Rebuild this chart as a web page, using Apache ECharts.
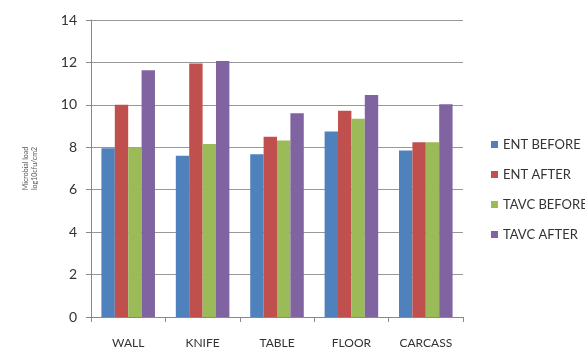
<!DOCTYPE html>
<html><head><meta charset="utf-8">
<script src="https://cdn.jsdelivr.net/npm/echarts@6/dist/echarts.min.js"></script>
<style>html,body{margin:0;padding:0;background:#fff}#c{width:585px;height:352px}</style>
</head><body><div id="c"></div>
<script>
const categories = ['WALL','KNIFE','TABLE','FLOOR','CARCASS'];
const seriesNames = ['ENT BEFORE','ENT AFTER','TAVC BEFORE','TAVC AFTER'];
const entBefore = [7.95, 7.6, 7.67, 8.74, 7.85];
const entAfter = [10.0, 11.95, 8.5, 9.72, 8.24];
const tavcBefore = [8.0, 8.15, 8.32, 9.34, 8.24];
const tavcAfter = [11.63, 12.07, 9.6, 10.47, 10.03];
const yTicks = [0,2,4,6,8,10,12,14];
const colors = ['#4F81BD','#C0504D','#9BBB59','#8064A2'];
const values = [entBefore, entAfter, tavcBefore, tavcAfter];
const font = 'Lato, "Open Sans", sans-serif';
const chart = echarts.init(document.getElementById('c'));
chart.setOption({
  animation:false,
  textStyle:{fontFamily:font},
  grid:{left:91,right:122,top:20,bottom:35},
  legend:{orient:'vertical',left:486,top:133,itemWidth:7,itemHeight:7,itemGap:17,
    icon:'rect',textStyle:{fontSize:13,color:'#333',fontFamily:font},
    data:seriesNames},
  xAxis:{type:'category',data:categories,
    axisLine:{lineStyle:{color:'#888'}},
    axisTick:{show:true,alignWithLabel:false,length:5,lineStyle:{color:'#888'}},
    axisLabel:{fontSize:12,color:'#333',margin:20}},
  yAxis:{type:'value',min:0,max:14,interval:2,
    name:'Microbial load\nlog10cfu/cm2',nameLocation:'middle',nameGap:52,nameRotate:90,
    nameTextStyle:{fontSize:7,color:'#555',lineHeight:9},
    axisLine:{show:true,lineStyle:{color:'#888'}},
    axisTick:{show:true,length:5,lineStyle:{color:'#888'}},
    splitLine:{lineStyle:{color:'#999'}},
    axisLabel:{fontSize:14,color:'#333',margin:14,
      formatter:v=>yTicks.includes(v)?String(v):''}},
  series: seriesNames.map((n,i)=>({name:n,type:'bar',data:values[i],
    itemStyle:{color:colors[i]},barGap:'0%',barCategoryGap:'28%'}))
});
</script></body></html>
